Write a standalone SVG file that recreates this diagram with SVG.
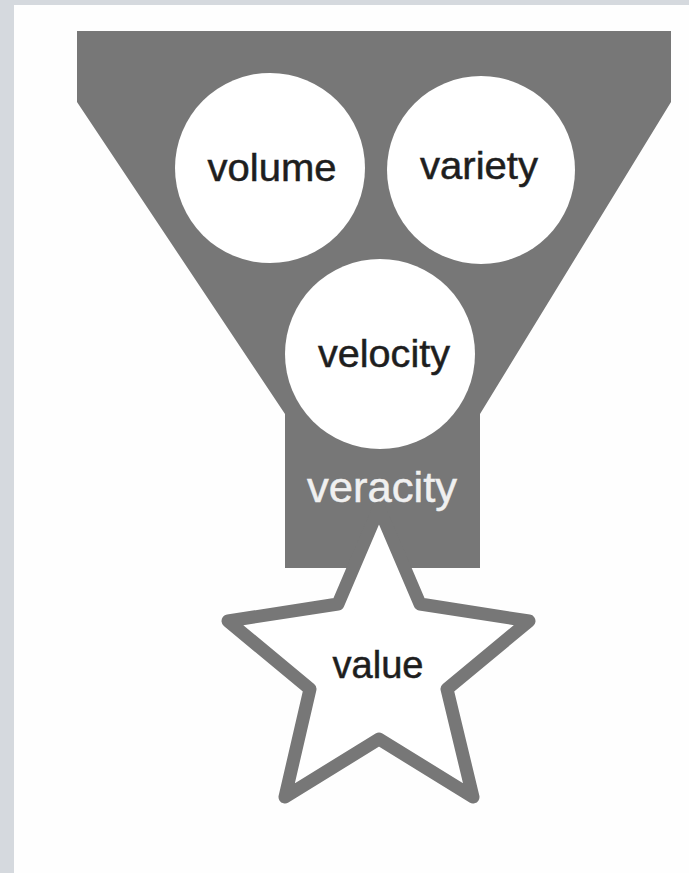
<svg xmlns="http://www.w3.org/2000/svg" width="689" height="873" viewBox="0 0 689 873">
<style>
.fun{fill:#777777}
.bub{fill:#ffffff}
.lbl{font-family:"Liberation Sans",Arial,sans-serif;fill:#1e1e1e;stroke:#1e1e1e;stroke-width:0.5;text-anchor:middle}
.star{fill:#ffffff;stroke:#777777;stroke-width:13;stroke-linejoin:round}
</style>
<rect x="0" y="0" width="689" height="873" fill="#d5d9de"/>
<rect x="14" y="5" width="675" height="868" fill="#fefefe"/>
<g id="funnel">
<polygon class="fun" points="77,31 671,31 671,102 480,414 480,568 285,568 285,414 77,102"/>
<text x="382" y="502" class="lbl" style="fill:#f0f0f0;stroke:#f0f0f0" font-size="43" textLength="150" lengthAdjust="spacingAndGlyphs">veracity</text>
</g>
<g id="volume">
<circle class="bub" cx="270" cy="168" r="95"/>
<text x="272" y="181" class="lbl" font-size="38" textLength="129" lengthAdjust="spacingAndGlyphs">volume</text>
</g>
<g id="variety">
<circle class="bub" cx="481" cy="170" r="94"/>
<text x="479" y="179" class="lbl" font-size="38" textLength="118" lengthAdjust="spacingAndGlyphs">variety</text>
</g>
<g id="velocity">
<circle class="bub" cx="380" cy="354" r="95"/>
<text x="384" y="367" class="lbl" font-size="38" textLength="132" lengthAdjust="spacingAndGlyphs">velocity</text>
</g>
<g id="value">
<polygon class="star" points="379,508 420,604 529,621 447,689 473,797 379,739 285,797 310,689 228,621 338,604"/>
<text x="378" y="678" class="lbl" font-size="38" textLength="91" lengthAdjust="spacingAndGlyphs">value</text>
</g>
<g id="connectors"></g>
</svg>
